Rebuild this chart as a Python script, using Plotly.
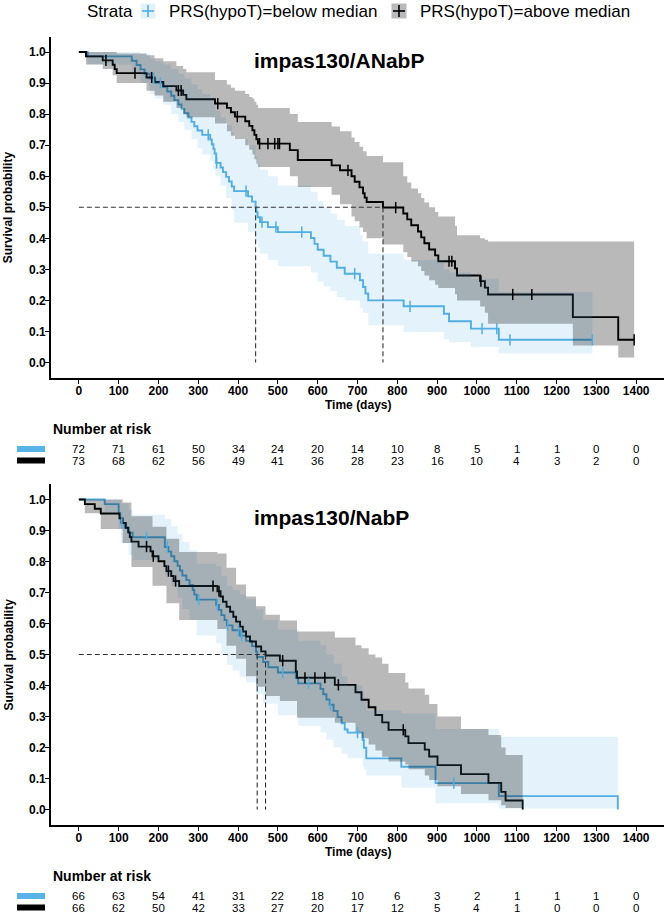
import plotly.graph_objects as go

W, H = 666, 914
FONT = "Liberation Sans, Arial, Helvetica, sans-serif"
BLUE = "#4FAEE3"
BLUE_KEY = "#56B4E9"
BLUE_BAND = "rgba(86,180,233,0.17)"
GREY_BAND = "rgba(0,0,0,0.275)"

# ---------------- data ----------------
day_ticks = [0, 100, 200, 300, 400, 500, 600, 700, 800, 900, 1000, 1100, 1200, 1300, 1400]
prob_ticks = [0.0, 0.1, 0.2, 0.3, 0.4, 0.5, 0.6, 0.7, 0.8, 0.9, 1.0]
strata = ["PRS(hypoT)=below median", "PRS(hypoT)=above median"]
panel_titles = ["impas130/ANabP", "impas130/NabP"]

# Panel 1 (ANabP) - below median
p1_low_t = [22,133,145,155,165,178,192,212,222,232,240,250,258,265,275,283,290,298,310,330,
            334,338,341,345,356,362,370,377,384,390,425,435,444,446,449,455,475,500,583,592,
            600,615,632,648,668,706,714,720,727,816,917,930,985,1055]
p1_low_s = [0.986,0.972,0.958,0.944,0.930,0.915,0.901,0.887,0.873,0.859,0.845,0.831,0.817,0.803,0.789,0.775,0.761,0.747,0.733,0.718,
            0.703,0.688,0.673,0.643,0.628,0.613,0.598,0.583,0.567,0.552,0.535,0.518,0.500,0.484,0.468,0.452,0.436,0.420,0.401,0.382,
            0.363,0.344,0.325,0.305,0.286,0.265,0.243,0.222,0.200,0.181,0.157,0.133,0.109,0.073]
p1_low_cens = [188,205,325,346,420,460,495,560,693,832,1013,1050,1083,1290]
p1_low_end = 1290
p1_low_ci_t = [0,22,133,155,178,192,212,232,250,265,283,298,310,330,338,343,356,370,384,390,
               425,444,449,455,475,500,583,600,615,632,648,668,706,714,727,816,917,930,985,1055]
p1_low_ci_lo = [1,.96,.935,.90,.865,.85,.83,.80,.775,.75,.72,.69,.67,.65,.62,.60,.57,.53,.49,.45,
                .42,.39,.37,.35,.33,.31,.29,.26,.245,.23,.21,.20,.175,.16,.12,.098,.075,.065,.05,.029]
p1_low_ci_hi = [1,1,1,.995,.98,.97,.96,.945,.93,.915,.895,.88,.865,.85,.83,.81,.79,.765,.74,.72,
                .70,.66,.64,.62,.60,.57,.55,.52,.50,.48,.46,.44,.41,.39,.35,.33,.30,.29,.27,.227]

# Panel 1 (ANabP) - above median
p1_high_t = [18,60,85,90,95,170,190,212,245,262,270,342,372,382,392,418,428,436,441,446,
             450,530,550,635,656,685,693,705,714,718,723,764,815,825,835,852,860,868,880,895,
             903,945,950,1008,1020,1028,1241,1355]
p1_high_s = [0.986,0.973,0.959,0.945,0.932,0.918,0.904,0.890,0.876,0.862,0.848,0.834,0.820,0.806,0.792,0.777,0.762,0.748,0.733,0.719,
             0.705,0.684,0.652,0.635,0.619,0.600,0.582,0.564,0.545,0.531,0.517,0.499,0.480,0.461,0.442,0.422,0.403,0.384,0.364,0.345,
             0.326,0.303,0.280,0.262,0.241,0.219,0.146,0.073]
p1_high_cens = [68,141,183,250,257,349,398,454,475,492,500,504,676,796,930,937,1010,1090,1138,1395]
p1_high_end = 1395
p1_high_ci_t = [0,18,60,85,95,170,190,212,245,262,270,342,372,382,392,418,428,436,441,446,
                450,530,550,635,656,685,693,705,714,723,764,815,825,835,852,860,868,880,895,903,
                945,950,1008,1020,1028,1241,1355]
p1_high_ci_lo = [1,.96,.945,.925,.90,.875,.86,.84,.82,.80,.79,.77,.745,.73,.72,.70,.685,.67,.655,.64,
                 .63,.60,.565,.54,.51,.47,.455,.435,.42,.40,.38,.355,.34,.325,.31,.295,.28,.265,.25,.24,
                 .22,.20,.18,.16,.125,.055,.016]
p1_high_ci_hi = [1,1,1,1,.995,.99,.98,.97,.955,.945,.935,.91,.895,.885,.875,.865,.855,.85,.84,.83,
                 .82,.80,.775,.76,.745,.725,.71,.695,.68,.665,.645,.60,.58,.56,.545,.53,.515,.50,.485,.47,
                 .44,.41,.40,.395,.39,.39,.39]

# Panel 2 (NabP) - below median
p2_low_t = [65,100,104,106,115,125,135,216,225,232,240,248,254,260,270,278,286,290,296,345,
            352,358,366,372,386,404,420,435,445,448,463,476,500,545,551,607,614,622,630,640,
            650,660,668,675,713,716,722,810,896,1055,1354]
p2_low_s = [0.985,0.955,0.939,0.924,0.909,0.893,0.878,0.847,0.832,0.817,0.801,0.786,0.771,0.755,0.740,0.724,0.708,0.693,0.677,0.660,
            0.644,0.627,0.611,0.594,0.578,0.561,0.544,0.527,0.509,0.492,0.476,0.459,0.442,0.424,0.407,0.389,0.372,0.355,0.338,0.318,
            0.298,0.278,0.258,0.248,0.224,0.199,0.165,0.138,0.085,0.043,0.0]
p2_low_cens = [108,170,222,301,348,374,401,409,512,577,632,700,942]
p2_low_end = 1354
p2_low_ci_t = [0,65,100,106,125,135,216,232,248,260,278,296,345,358,372,386,404,420,445,463,
               500,551,607,622,640,660,675,713,716,722,810,896,1055]
p2_low_ci_lo = [1,.956,.905,.86,.82,.805,.757,.72,.683,.647,.612,.561,.536,.50,.467,.448,.428,.41,.372,.341,
                .304,.27,.248,.225,.20,.18,.165,.14,.13,.11,.07,.02,.003]
p2_low_ci_hi = [1,1,1,.987,.967,.951,.937,.914,.889,.863,.836,.793,.784,.754,.721,.708,.694,.678,.646,.611,
                .58,.544,.53,.50,.47,.43,.40,.38,.35,.32,.31,.26,.235]

# Panel 2 (NabP) - above median
p2_high_t = [15,40,55,102,110,118,124,128,132,150,180,185,200,215,220,232,238,252,348,356,
             362,371,380,388,395,405,412,420,430,445,458,469,505,545,548,643,695,710,728,745,
             762,778,820,828,869,880,901,960,1029,1061,1072,1115]
p2_high_s = [0.985,0.970,0.955,0.939,0.924,0.909,0.894,0.879,0.864,0.848,0.833,0.817,0.801,0.785,0.769,0.753,0.737,0.721,0.704,0.687,
             0.670,0.654,0.638,0.622,0.606,0.590,0.574,0.558,0.542,0.526,0.510,0.497,0.480,0.445,0.425,0.402,0.378,0.354,0.330,0.305,
             0.281,0.257,0.236,0.214,0.193,0.171,0.143,0.114,0.086,0.057,0.029,0.0]
p2_high_cens = [170,187,225,243,337,352,512,568,593,618,652,815]
p2_high_end = 1115
p2_high_ci_t = [0,15,55,110,132,185,220,252,348,371,395,420,445,469,505,548,643,695,710,728,
                745,762,778,820,828,869,880,901,960,1029,1061,1072]
p2_high_ci_lo = [1,.956,.905,.86,.782,.722,.665,.611,.582,.528,.486,.43,.396,.366,.35,.296,.28,.25,.23,.21,
                 .19,.17,.155,.145,.13,.11,.095,.075,.05,.03,.014,.005]
p2_high_ci_hi = [1,1,1,.99,.946,.912,.873,.831,.826,.78,.726,.687,.656,.628,.61,.574,.555,.53,.52,.50,
                 .49,.47,.44,.41,.39,.37,.34,.30,.26,.24,.20,.176]

# medians (days)
p1_medians = [444, 764]
p2_medians = [448, 469]

# number at risk
p1_risk_low = [72,71,61,50,34,24,20,14,10,8,5,1,1,0,0]
p1_risk_high = [73,68,62,56,49,41,36,28,23,16,10,4,3,2,0]
p2_risk_low = [66,63,54,41,31,22,18,10,6,3,2,1,1,1,0]
p2_risk_high = [66,62,50,42,33,27,20,17,12,5,4,1,0,0,0]

# ---------------- helpers ----------------
def px(x):
    return x / W

def py(y):
    return 1 - y / H

def step_xy(times, surv, end):
    x = [0] + list(times)
    y = [1.0] + list(surv)
    if end > x[-1]:
        x.append(end)
        y.append(y[-1])
    return x, y

def band_xy(t, v, end):
    x = list(t)
    y = list(v)
    if end > x[-1]:
        x.append(end)
        y.append(y[-1])
    return x, y

def surv_at(times, surv, c):
    s = 1.0
    for t, v in zip(times, surv):
        if t <= c:
            s = v
    return s

fig = go.Figure()

PLOT_X = (51, 664)
PANELS = [
    dict(top=36.5, bottom=378, xa="x", ya="y",
         curves=[(p1_low_t, p1_low_s, p1_low_cens, p1_low_end, p1_low_ci_t, p1_low_ci_lo, p1_low_ci_hi, BLUE, BLUE_BAND),
                 (p1_high_t, p1_high_s, p1_high_cens, p1_high_end, p1_high_ci_t, p1_high_ci_lo, p1_high_ci_hi, "black", GREY_BAND)],
         medians=p1_medians, risk=(p1_risk_low, p1_risk_high), title=panel_titles[0], title_y=60),
    dict(top=484, bottom=825, xa="x2", ya="y2",
         curves=[(p2_low_t, p2_low_s, p2_low_cens, p2_low_end, p2_low_ci_t, p2_low_ci_lo, p2_low_ci_hi, BLUE, BLUE_BAND),
                 (p2_high_t, p2_high_s, p2_high_cens, p2_high_end, p2_high_ci_t, p2_high_ci_lo, p2_high_ci_hi, "black", GREY_BAND)],
         medians=p2_medians, risk=(p2_risk_low, p2_risk_high), title=panel_titles[1], title_y=517),
]

annotations = []
shapes = []

for i, P in enumerate(PANELS):
    xa, ya = P["xa"], P["ya"]
    # step lines
    for (t, s, cens, end, ct, clo, chi, col, band) in P["curves"]:
        x, y = step_xy(t, s, end)
        fig.add_trace(go.Scatter(x=x, y=y, mode="lines", line=dict(color=col, width=1.9, shape="hv"),
                                 xaxis=xa, yaxis=ya, hoverinfo="skip"))
    # confidence bands
    for (t, s, cens, end, ct, clo, chi, col, band) in P["curves"]:
        bx, blo = band_xy(ct, clo, end)
        _, bhi = band_xy(ct, chi, end)
        fig.add_trace(go.Scatter(x=bx, y=blo, mode="lines", line=dict(width=0, shape="hv"),
                                 xaxis=xa, yaxis=ya, hoverinfo="skip"))
        fig.add_trace(go.Scatter(x=bx, y=bhi, mode="lines", line=dict(width=0, shape="hv"),
                                 fill="tonexty", fillcolor=band, xaxis=xa, yaxis=ya, hoverinfo="skip"))
    # censor marks
    for (t, s, cens, end, ct, clo, chi, col, band) in P["curves"]:
        cy = [surv_at(t, s, c) for c in cens]
        fig.add_trace(go.Scatter(x=cens, y=cy, mode="markers",
                                 marker=dict(symbol="line-ns-open", size=8, color=col,
                                             line=dict(color=col, width=1.5)),
                                 xaxis=xa, yaxis=ya, hoverinfo="skip"))
    # median dashed lines
    med = P["medians"]
    fig.add_trace(go.Scatter(x=[0, max(med)], y=[0.5, 0.5], mode="lines",
                             line=dict(color="#333333", width=1.1, dash="5px,3px"),
                             xaxis=xa, yaxis=ya, hoverinfo="skip"))
    for m in med:
        fig.add_trace(go.Scatter(x=[m, m], y=[0.5, 0], mode="lines",
                                 line=dict(color="#333333", width=1.1, dash="5px,3px"),
                                 xaxis=xa, yaxis=ya, hoverinfo="skip"))

    # axes
    axis_common = dict(showline=True, linecolor="black", linewidth=1.6, ticks="outside", ticklen=4,
                       tickwidth=1.2, tickcolor="black", showgrid=False, zeroline=False,
                       tickfont=dict(family=FONT, size=12, color="black", weight="bold"))
    xkey = "xaxis" if i == 0 else "xaxis2"
    ykey = "yaxis" if i == 0 else "yaxis2"
    fig.update_layout(**{
        xkey: dict(domain=[px(PLOT_X[0]), px(PLOT_X[1])], range=[-70, 1470], anchor=ya,
                   tickvals=day_ticks, ticktext=[str(d) for d in day_ticks],
                   ticklabelstandoff=-3, **axis_common),
        ykey: dict(domain=[py(P["bottom"]), py(P["top"])], range=[-0.05, 1.05], anchor=xa,
                   tickvals=prob_ticks, ticktext=["%.1f" % v for v in prob_ticks],
                   ticklabelstandoff=-3, **axis_common),
    })

    # panel title
    annotations.append(dict(text=P["title"], x=px(252), y=py(P["title_y"]), xref="paper", yref="paper",
                            xanchor="left", yanchor="middle", showarrow=False,
                            font=dict(family=FONT, size=21, color="black", weight="bold")))
    # axis titles
    annotations.append(dict(text="Time (days)", x=px(358), y=py(P["bottom"] + 27), xref="paper", yref="paper",
                            xanchor="center", yanchor="middle", showarrow=False,
                            font=dict(family=FONT, size=12, color="black", weight="bold")))
    annotations.append(dict(text="Survival probability", x=px(8), y=py((P["top"] + P["bottom"]) / 2),
                            xref="paper", yref="paper", xanchor="center", yanchor="middle",
                            textangle=-90, showarrow=False,
                            font=dict(family=FONT, size=12, color="black", weight="bold")))
    # risk table
    nar_y = P["bottom"] + 51
    annotations.append(dict(text="Number at risk", x=px(51), y=py(nar_y), xref="paper", yref="paper",
                            xanchor="left", yanchor="middle", showarrow=False,
                            font=dict(family=FONT, size=14, color="black", weight="bold")))
    for r, (vals, col) in enumerate(zip(P["risk"], [BLUE_KEY, "black"])):
        ry = nar_y + 20 + r * 11.5
        shapes.append(dict(type="rect", xref="paper", yref="paper", x0=px(17), x1=px(45),
                           y0=py(ry + 3), y1=py(ry - 3), fillcolor=col, line=dict(width=0)))
        for d, v in zip(day_ticks, vals):
            annotations.append(dict(text=str(v), x=d, y=py(ry), xref=xa, yref="paper",
                                    xanchor="center", yanchor="middle", showarrow=False,
                                    font=dict(family=FONT, size=11.5, color="black")))

# legend (top)
LEG_Y = 11
annotations.append(dict(text="Strata", x=px(85), y=py(LEG_Y), xref="paper", yref="paper",
                        xanchor="left", yanchor="middle", showarrow=False,
                        font=dict(family=FONT, size=17, color="black")))
for (kx, tx, fillc, linec, label) in [(148, 167, "rgb(226,242,251)", BLUE, strata[0]),
                                      (399, 418, "rgb(185,185,187)", "black", strata[1])]:
    shapes.append(dict(type="rect", xref="paper", yref="paper", x0=px(kx - 7.5), x1=px(kx + 7.5),
                       y0=py(LEG_Y + 7.5), y1=py(LEG_Y - 7.5), fillcolor=fillc, line=dict(width=0)))
    shapes.append(dict(type="line", xref="paper", yref="paper", x0=px(kx - 6), x1=px(kx + 6),
                       y0=py(LEG_Y), y1=py(LEG_Y), line=dict(color=linec, width=1.6)))
    shapes.append(dict(type="line", xref="paper", yref="paper", x0=px(kx), x1=px(kx),
                       y0=py(LEG_Y + 6), y1=py(LEG_Y - 6), line=dict(color=linec, width=1.6)))
    annotations.append(dict(text=label, x=px(tx), y=py(LEG_Y), xref="paper", yref="paper",
                            xanchor="left", yanchor="middle", showarrow=False,
                            font=dict(family=FONT, size=17, color="black")))

fig.update_layout(width=W, height=H, margin=dict(l=0, r=0, t=0, b=0),
                  plot_bgcolor="white", paper_bgcolor="white", showlegend=False,
                  annotations=annotations, shapes=shapes)

fig.write_html("out.html", config={"displayModeBar": False},
               post_script="document.body.style.margin='0px';document.body.style.padding='0px';")
